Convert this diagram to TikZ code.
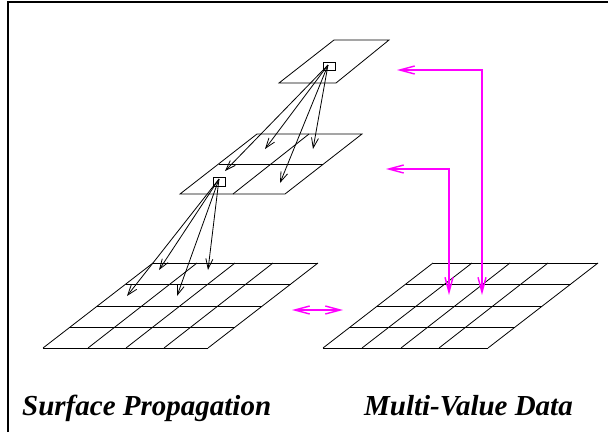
\documentclass[tikz,border=0pt]{standalone}
\usepackage{fontspec}
\setmainfont{Liberation Serif}
\usetikzlibrary{arrows.meta}
\definecolor{mgnt}{RGB}{255,0,255}
\begin{document}
\begin{tikzpicture}[x=1pt,y=-1pt,
  gridline/.style={line width=0.8pt},
  barb/.style={line width=0.8pt,-{Straight Barb[length=10pt,width=7pt]}},
  mag/.style={draw=mgnt,line width=1.4pt,{Straight Barb[length=15pt,width=8pt]}-{Straight Barb[length=15pt,width=8pt]}},
  lbl/.style={font=\fontsize{29}{33}\selectfont\bfseries\itshape,inner sep=0pt}]
\useasboundingbox (0,0) rectangle (608,432);
\draw[line width=2pt] (8,432) -- (8,2) -- (608,2);
% top plane
\draw[gridline] (334,40) -- (389,40) -- (336,83) -- (279,83) -- cycle;
\draw[gridline] (323,62) rectangle (335,70);
% middle plane
\draw[gridline] (257,134) -- (362,134) -- (285,194) -- (180,194) -- cycle;
\draw[gridline] (219,164) -- (323,164);
\draw[gridline] (309,134) -- (233,194);
\draw[gridline] (213,177) rectangle (225,186);
% bottom-left grid
\foreach \a/\b in {153/43,197/88,235/126,273/164,318/208}
  \draw[gridline] (\a,263) -- (\b,348);
\foreach \y/\l in {263/153,284/125.8,306/97.4,327/70.2,348/43}
  \draw[gridline] (\l,\y) -- (\l+165,\y);
% bottom-right grid
\foreach \a/\b in {433/323,472/362,510/401,548/439,598/488}
  \draw[gridline] (\a,263) -- (\b,348);
\foreach \y/\l in {263/433,284/405.8,306/377.4,327/350.2,348/323}
  \draw[gridline] (\l,\y) -- (\l+165,\y);
% black arrows
\coordinate (s1) at (328,65);
\coordinate (s2) at (219,179);
\foreach \p in {(265,149),(313,149),(225,171),(280,183)}
  \draw[barb] (s1) -- \p;
\foreach \p in {(159,270),(208,270),(127,296),(177,296)}
  \draw[barb] (s2) -- \p;
% magenta arrows
\coordinate (m1a) at (397,70);
\coordinate (m1b) at (482,70);
\coordinate (m1c) at (482,295);
\coordinate (m2a) at (386,169);
\coordinate (m2b) at (449,169);
\coordinate (m2c) at (449,295);
\coordinate (d1) at (292,310);
\coordinate (d2) at (343,310);
\draw[mag] (m1a) -- (m1b) -- (m1c);
\draw[mag] (m2a) -- (m2b) -- (m2c);
\draw[mag] (d1) -- (d2);
% labels
\node[lbl,anchor=base west] (t1) at (22,415) {Surface Propagation};
\node[lbl,anchor=base east] (t2) at (573,415) {Multi-Value Data};
\end{tikzpicture}
\end{document}
